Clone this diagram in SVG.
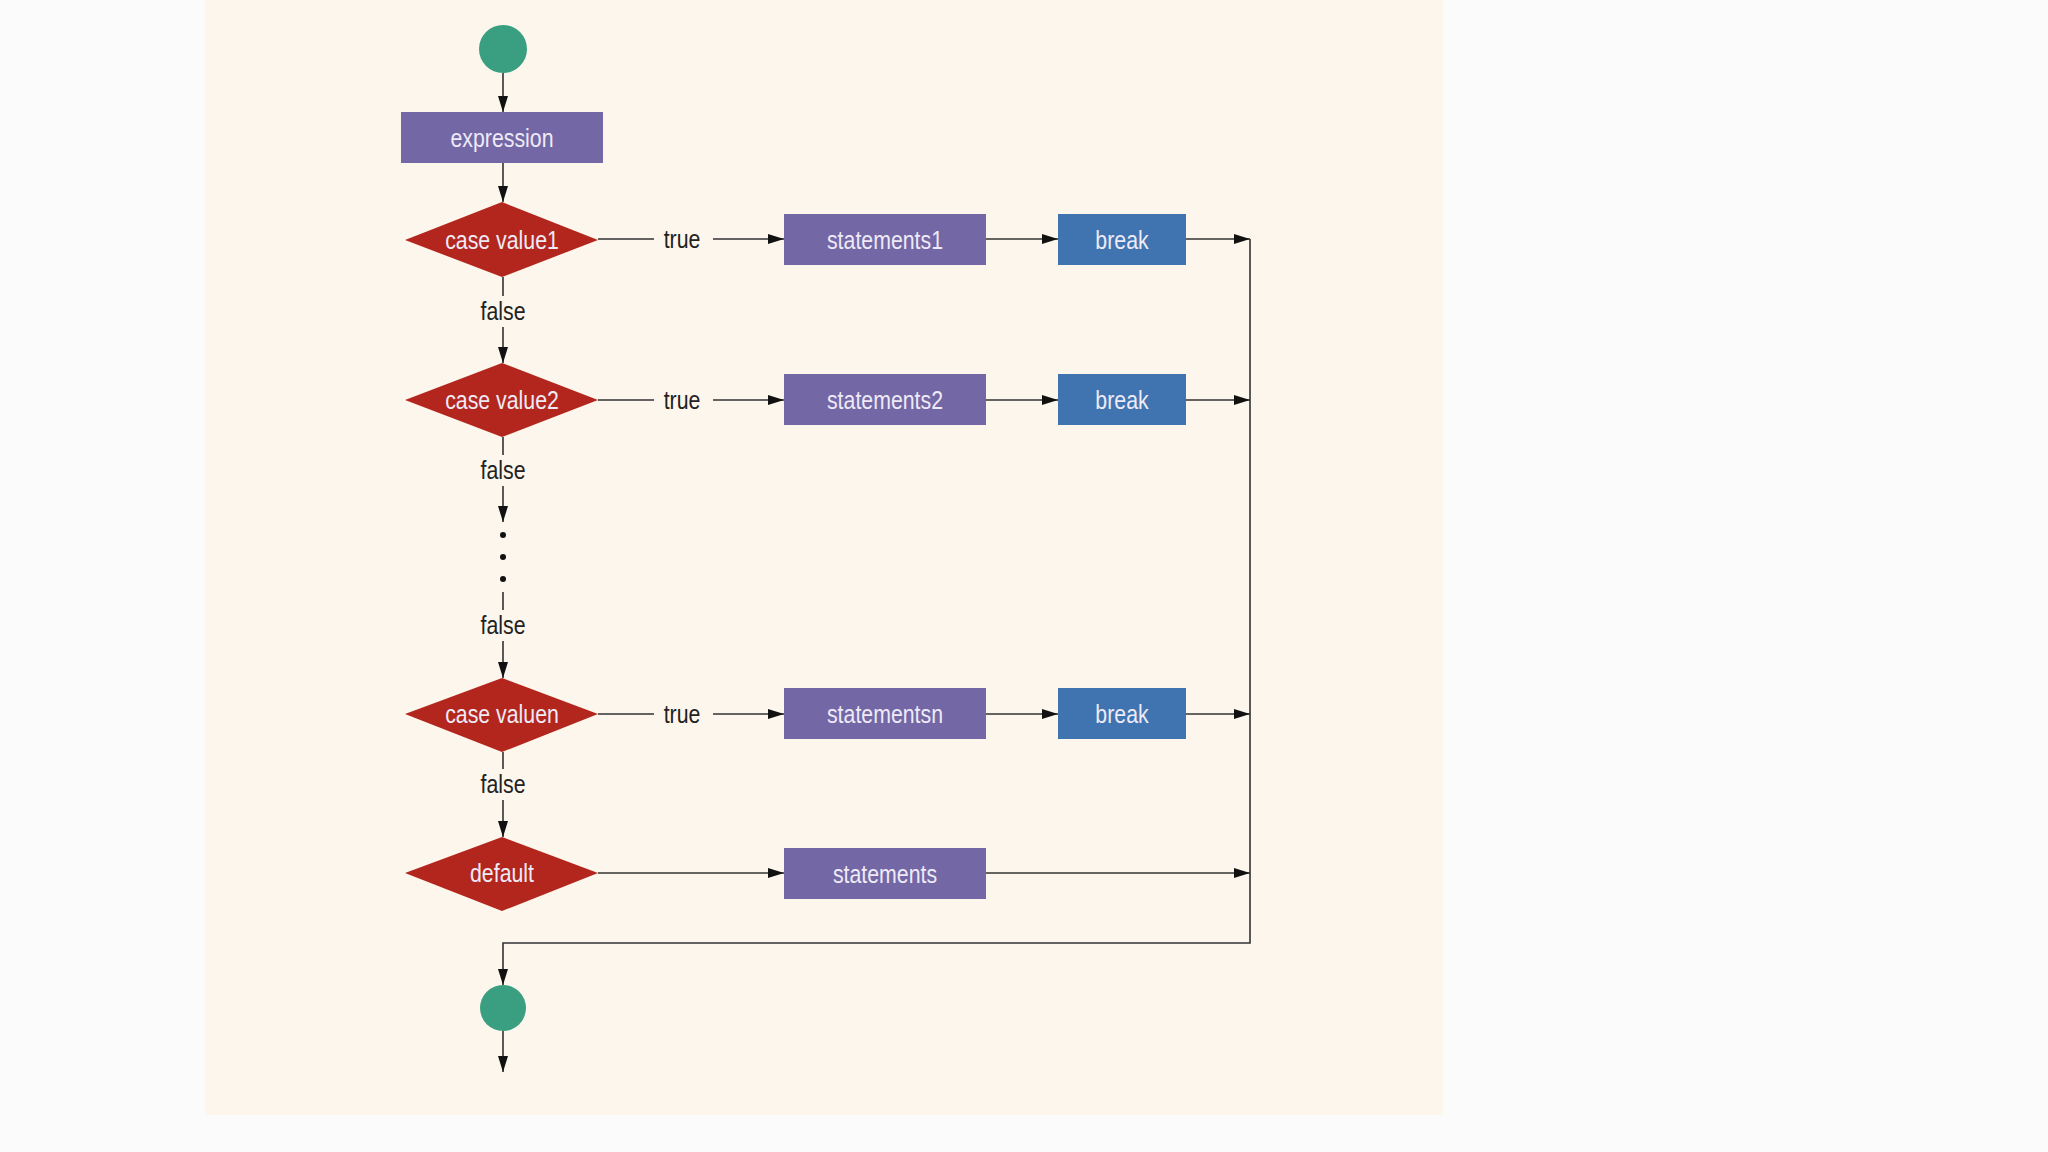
<svg xmlns="http://www.w3.org/2000/svg" width="2048" height="1152" viewBox="0 0 2048 1152">
<defs>
<style>
.bg{fill:#fbfbfb}
.panel{fill:#fdf6ec}
.term{fill:#3a9e80}
.act{fill:#7367a6}
.brk{fill:#3f74b1}
.dec{fill:#b3261e}
.lbl{font-family:"Liberation Sans",Arial,sans-serif;font-size:26px;text-anchor:middle;dominant-baseline:central}
.in{fill:#eeeaf6}
.edge{fill:#222}
.ln{fill:none;stroke:#333;stroke-width:1.6}
</style>
<marker id="ah" markerWidth="16" markerHeight="10" refX="16" refY="5" orient="auto" markerUnits="userSpaceOnUse">
<path d="M0,0 L16,5 L0,10 Z" fill="#111"/>
</marker>
</defs>
<rect class="bg" x="0" y="0" width="2048" height="1152"/>
<rect class="panel" x="205" y="0" width="1238" height="1115"/>

<g id="connectors">
<path class="ln" d="M503,73 V112" marker-end="url(#ah)"/>
<path class="ln" d="M503,163 V202" marker-end="url(#ah)"/>
<path class="ln" d="M503,277 V296 M503,327 V363" marker-end="url(#ah)"/>
<path class="ln" d="M503,437 V455 M503,486 V522" marker-end="url(#ah)"/>
<path class="ln" d="M503,592 V610 M503,641 V678" marker-end="url(#ah)"/>
<path class="ln" d="M503,752 V769 M503,800 V837" marker-end="url(#ah)"/>
<path class="ln" d="M598,239 H654 M713,239 H784" marker-end="url(#ah)"/>
<path class="ln" d="M986,239 H1058" marker-end="url(#ah)"/>
<path class="ln" d="M1186,239 H1250" marker-end="url(#ah)"/>
<path class="ln" d="M598,400 H654 M713,400 H784" marker-end="url(#ah)"/>
<path class="ln" d="M986,400 H1058" marker-end="url(#ah)"/>
<path class="ln" d="M1186,400 H1250" marker-end="url(#ah)"/>
<path class="ln" d="M598,714 H654 M713,714 H784" marker-end="url(#ah)"/>
<path class="ln" d="M986,714 H1058" marker-end="url(#ah)"/>
<path class="ln" d="M1186,714 H1250" marker-end="url(#ah)"/>
<path class="ln" d="M598,873 H784" marker-end="url(#ah)"/>
<path class="ln" d="M986,873 H1250" marker-end="url(#ah)"/>
<path class="ln" d="M1250,239 V943 H503 V985" marker-end="url(#ah)"/>
<path class="ln" d="M503,1031 V1072" marker-end="url(#ah)"/>
<circle cx="503" cy="535" r="3" fill="#111"/>
<circle cx="503" cy="557" r="3" fill="#111"/>
<circle cx="503" cy="579" r="3" fill="#111"/>
<text class="lbl edge" transform="translate(682,239) scale(0.82,1)">true</text>
<text class="lbl edge" transform="translate(682,400) scale(0.82,1)">true</text>
<text class="lbl edge" transform="translate(682,714) scale(0.82,1)">true</text>
<text class="lbl edge" transform="translate(503,311) scale(0.82,1)">false</text>
<text class="lbl edge" transform="translate(503,470) scale(0.82,1)">false</text>
<text class="lbl edge" transform="translate(503,625) scale(0.82,1)">false</text>
<text class="lbl edge" transform="translate(503,784) scale(0.82,1)">false</text>
</g>

<g id="start"><circle class="term" cx="503" cy="49" r="24"/></g>
<g id="expression"><rect class="act" x="401" y="112" width="202" height="51"/><text class="lbl in" transform="translate(502,138) scale(0.82,1)">expression</text></g>
<g id="case1"><polygon class="dec" points="405,240 502,202 598,240 502,277"/><text class="lbl in" transform="translate(502,240) scale(0.82,1)">case value1</text></g>
<g id="statements1"><rect class="act" x="784" y="214" width="202" height="51"/><text class="lbl in" transform="translate(885,240) scale(0.82,1)">statements1</text></g>
<g id="break1"><rect class="brk" x="1058" y="214" width="128" height="51"/><text class="lbl in" transform="translate(1122,240) scale(0.82,1)">break</text></g>
<g id="case2"><polygon class="dec" points="405,400 502,363 598,400 502,437"/><text class="lbl in" transform="translate(502,400) scale(0.82,1)">case value2</text></g>
<g id="statements2"><rect class="act" x="784" y="374" width="202" height="51"/><text class="lbl in" transform="translate(885,400) scale(0.82,1)">statements2</text></g>
<g id="break2"><rect class="brk" x="1058" y="374" width="128" height="51"/><text class="lbl in" transform="translate(1122,400) scale(0.82,1)">break</text></g>
<g id="casen"><polygon class="dec" points="405,714 502,678 598,714 502,752"/><text class="lbl in" transform="translate(502,714) scale(0.82,1)">case valuen</text></g>
<g id="statementsn"><rect class="act" x="784" y="688" width="202" height="51"/><text class="lbl in" transform="translate(885,714) scale(0.82,1)">statementsn</text></g>
<g id="breakn"><rect class="brk" x="1058" y="688" width="128" height="51"/><text class="lbl in" transform="translate(1122,714) scale(0.82,1)">break</text></g>
<g id="default"><polygon class="dec" points="405,873 502,837 598,873 502,911"/><text class="lbl in" transform="translate(502,873) scale(0.82,1)">default</text></g>
<g id="statements"><rect class="act" x="784" y="848" width="202" height="51"/><text class="lbl in" transform="translate(885,874) scale(0.82,1)">statements</text></g>
<g id="end"><circle class="term" cx="503" cy="1008" r="23"/></g>
</svg>
